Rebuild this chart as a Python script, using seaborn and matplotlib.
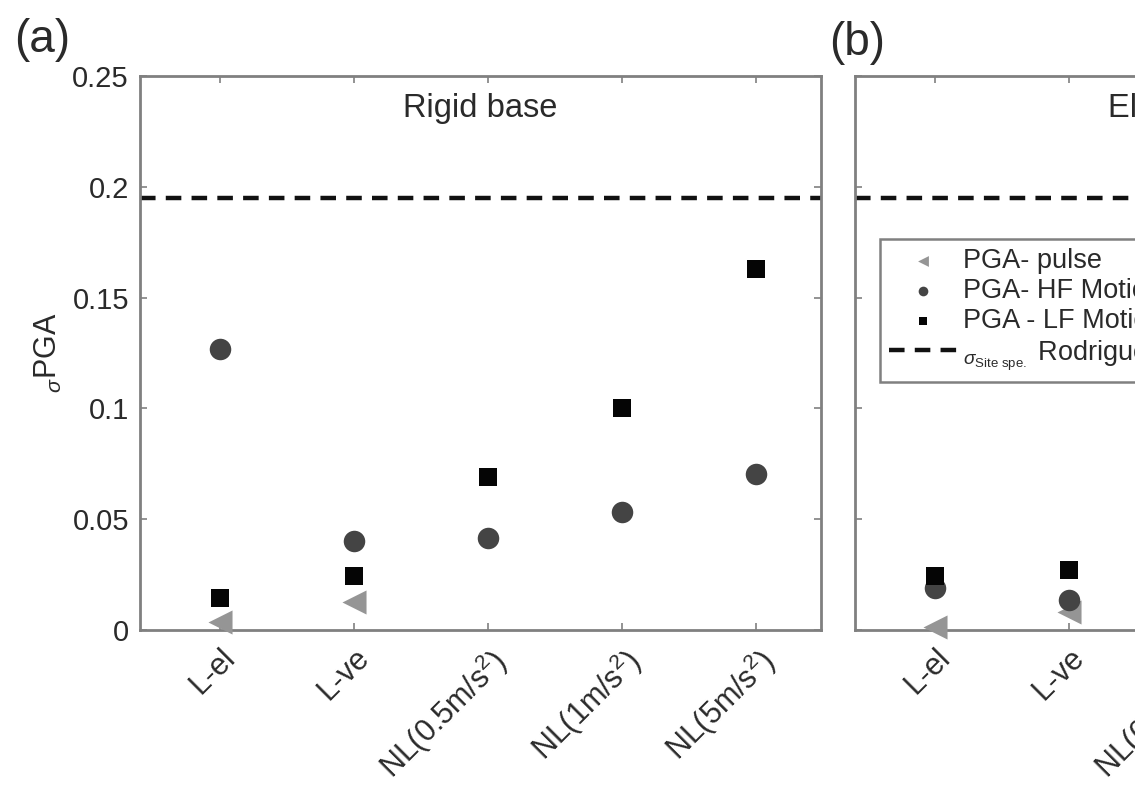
import numpy as np
import pandas as pd
import matplotlib
matplotlib.use("Agg")
import matplotlib.pyplot as plt
import seaborn as sns

categories = ["L-el", "L-ve", "NL(0.5m/s$^2$)", "NL(1m/s$^2$)", "NL(5m/s$^2$)"]

# Panel (a) Rigid base
a_pulse_cat = ["L-el", "L-ve"]
a_pulse = [0.0036, 0.0126]
a_hf = [0.127, 0.040, 0.0414, 0.0532, 0.0703]
a_lf = [0.0144, 0.0243, 0.0689, 0.100, 0.163]

# Panel (b) Elastic base (only the visible part)
b_cat = ["L-el", "L-ve"]
b_pulse = [0.0014, 0.008]
b_hf = [0.019, 0.0135]
b_lf = [0.0243, 0.027]

sigma_site = 0.195
yticks = [0, 0.05, 0.1, 0.15, 0.2, 0.25]
ytick_labels = ["0", "0.05", "0.1", "0.15", "0.2", "0.25"]

sns.set_style("white")
plt.rcParams['font.family'] = ['Liberation Sans', 'DejaVu Sans']
plt.rcParams['mathtext.fontset'] = 'custom'
plt.rcParams['mathtext.rm'] = 'Liberation Sans'
plt.rcParams['mathtext.it'] = 'Liberation Sans:italic'

W, H = 1135, 788
fig = plt.figure(figsize=(W / 100, H / 100), dpi=100)

ax_w = 681 / W
ax_h = 554 / H
ax_b = 1 - 630 / H
axA = fig.add_axes([140 / W, ax_b, ax_w, ax_h])
axB = fig.add_axes([855 / W, ax_b, ax_w, ax_h])

spine_col = "#808080"
text_col = "#2a2a2a"
c_tri = "#959595"
c_circ = "#444444"
c_sq = "#050505"


def pos(cats):
    return [categories.index(c) for c in cats]


def style_axes(ax, title, show_ylabels):
    ax.set_xlim(-0.6, 4.485)
    ax.set_ylim(0, 0.25)
    ax.set_yticks(yticks)
    ax.set_yticklabels(ytick_labels if show_ylabels else [])
    ax.set_xticks(range(len(categories)))
    ax.set_xticklabels(categories, rotation=45, ha="right", rotation_mode="anchor",
                       fontsize=22, color=text_col)
    for s in ax.spines.values():
        s.set_visible(True)
        s.set_color(spine_col)
        s.set_linewidth(2.0)
    ax.tick_params(axis="both", direction="in", length=5, width=1.2, color=spine_col,
                   top=True, right=True, bottom=True, left=True, labelsize=21,
                   labelcolor=text_col, pad=8)
    ax.tick_params(axis="x", labelsize=22, pad=9)
    ax.set_xlabel("")
    ax.set_ylabel("")
    ax.text(0.5, 0.942, title, transform=ax.transAxes, ha="center", va="center",
            fontsize=23.5, color=text_col)


def draw(ax, pulse_cat, pulse, hf_cat, hf, lf_cat, lf, legend=False):
    sns.scatterplot(x=pos(pulse_cat), y=pulse, ax=ax, marker="<", s=300, color=c_tri,
                    edgecolor=c_tri, linewidth=0, zorder=3,
                    label="PGA- pulse" if legend else None, clip_on=False)
    sns.scatterplot(x=pos(hf_cat), y=hf, ax=ax, marker="o", s=240, color=c_circ,
                    edgecolor=c_circ, linewidth=0, zorder=4,
                    label="PGA- HF Motion" if legend else None, clip_on=False)
    sns.scatterplot(x=pos(lf_cat), y=lf, ax=ax, marker="s", s=150, color=c_sq,
                    edgecolor=c_sq, linewidth=0, zorder=5,
                    label="PGA - LF Motion" if legend else None, clip_on=False)
    ax.axhline(sigma_site, color="#111111", lw=3.2, dashes=(3.5, 2.3), zorder=2,
               label=(r"$_{\sigma_{\mathrm{Site\ spe.}}}$ Rodriguez-Marek et al." if legend else None))


draw(axA, a_pulse_cat, a_pulse, categories, a_hf, categories, a_lf)
draw(axB, b_cat, b_pulse, b_cat, b_hf, b_cat, b_lf, legend=True)

style_axes(axA, "Rigid base", True)
style_axes(axB, "Elastic base", False)

axA.set_ylabel(r"$_{\sigma}$PGA", fontsize=22, color=text_col, labelpad=6)

leg = axB.legend(loc="upper left", bbox_to_anchor=(880 / W, 1 - 239 / H),
                 bbox_transform=fig.transFigure, fontsize=19.5, markerscale=0.45,
                 frameon=True, fancybox=False, edgecolor=spine_col, framealpha=1,
                 labelspacing=0.14, handlelength=2.5, handletextpad=0.2,
                 borderpad=0.35, borderaxespad=0)
leg.get_frame().set_linewidth(1.8)
for t in leg.get_texts():
    t.set_color(text_col)

fig.text(14 / W, 1 - 40 / H, "(a)", fontsize=33, color=text_col, va="center", ha="left")
fig.text(829 / W, 1 - 43 / H, "(b)", fontsize=33, color=text_col, va="center", ha="left")

fig.savefig("out.png", dpi=100)
